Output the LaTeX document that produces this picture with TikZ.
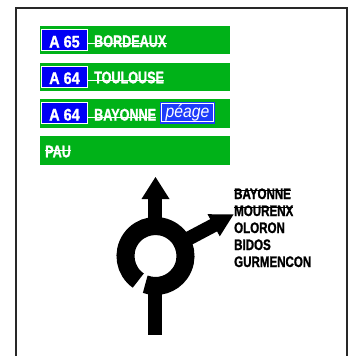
\documentclass[tikz,border=0pt]{standalone}
\usepackage{fontspec}
\newfontfamily\signfont[FakeStretch=0.75,FakeBold=1.2]{Liberation Sans}
\newfontfamily\boxfont[FakeStretch=0.86,FakeBold=1.2]{Liberation Sans}
\newfontfamily\blackfont[FakeStretch=0.76,FakeBold=1.2]{Liberation Sans}
\newfontfamily\peagefont[FakeStretch=0.9]{Liberation Sans}
\definecolor{signgreen}{RGB}{0,178,24}
\definecolor{signblue}{RGB}{0,0,245}
\definecolor{peageblue}{RGB}{30,60,250}
\definecolor{framegray}{RGB}{40,40,40}
\tikzset{
  bar/.style={fill=signgreen, draw=none, minimum width=190pt, minimum height=28.5pt, inner sep=0, outer sep=0},
  routebox/.style={fill=signblue, draw=white, line width=1pt, minimum width=46pt, minimum height=21pt, inner sep=0},
  routetext/.style={anchor=base, text=white, inner sep=0, font=\boxfont\bfseries\fontsize{16.8}{17}\selectfont},
  wtext/.style={anchor=base west, text=white, inner sep=0, font=\signfont\bfseries\fontsize{16.8}{17}\selectfont},
  btext/.style={anchor=base west, text=black, inner sep=0, font=\blackfont\bfseries\fontsize{15.2}{16}\selectfont},
  road/.style={draw=black, line cap=butt},
  hair/.style={line width=0.6pt},
}
\begin{document}
\begin{tikzpicture}[x=1pt,y=-1pt]
\useasboundingbox (0,0) rectangle (352,356);
\clip (0,0) rectangle (352,356);
\draw[framegray, line width=2pt] (16,8) rectangle (346.5,380);
% green bars
\node[bar] (bar1) at (135,40) {};
\node[bar] (bar2) at (135,77) {};
\node[bar] (bar3) at (135,113.5) {};
\node[bar] (bar4) at (135,150.5) {};
% route boxes
\node[routebox] (box1) at (64.5,40) {};
\node[routebox] (box2) at (64.5,76.5) {};
\node[routebox] (box3) at (64.5,113) {};
\node[routetext] (r1) at (64.5,47.5) {A 65};
\node[routetext] (r2) at (64.5,84) {A 64};
\node[routetext] (r3) at (64.5,120.5) {A 64};
\node[wtext] (t1) at (94,47) {BORDEAUX};
\node[wtext] (t2) at (94,83.3) {TOULOUSE};
\node[wtext] (t3) at (94,120.5) {BAYONNE};
\node[wtext] (t4) at (45,157.3) {PAU};
\draw[white, hair] (box1.east |- 0,42.8) -- (t1.east |- 0,42.8);
\draw[white, hair] (box2.east |- 0,80) -- (t2.east |- 0,80);
\draw[white, hair] (box3.east |- 0,116.8) -- (t3.east |- 0,116.8);
\draw[white, hair] (t4.west |- 0,150.7) -- (t4.east |- 0,150.7);
% peage
\fill[peageblue] (160,102) rectangle (215,123.5);
\draw[white, line width=0.8pt] (161.8,103.8) rectangle (213.2,121.7);
\node[anchor=base west, text=white, inner sep=0, font=\peagefont\itshape\fontsize{17.5}{18}\selectfont] (peage) at (165.5,117.5) {péage};
% roundabout
\coordinate (c) at (155.5,256);
\draw[road, line width=18pt] ([shift={(125:30)}]c) arc[start angle=125, end angle=470, radius=30];
\fill[black] (148,285) rectangle (162,335);
\fill[black] (148,197) rectangle (162,230);
\fill[black] (141.5,199) -- (155.5,177) -- (169.5,199) -- cycle;
\coordinate (ds) at (182,242);
\coordinate (de) at (214.5,224.8);
\draw[road, line width=14pt] (ds) -- (de);
\fill[black] (207.5,214.2) -- (233.5,214.5) -- (219.8,236.3) -- cycle;
% destinations
\node[btext] (d1) at (234,199) {BAYONNE};
\node[btext] (d2) at (234,216) {MOURENX};
\node[btext] (d3) at (234,233) {OLORON};
\node[btext] (d4) at (234,250) {BIDOS};
\node[btext] (d5) at (234,267) {GURMENCON};
\draw[black, hair] (d1.west |- 0,189.8) -- (d1.east |- 0,189.8);
\draw[black, hair] (d2.west |- 0,206.8) -- (d2.east |- 0,206.8);
\end{tikzpicture}
\end{document}
